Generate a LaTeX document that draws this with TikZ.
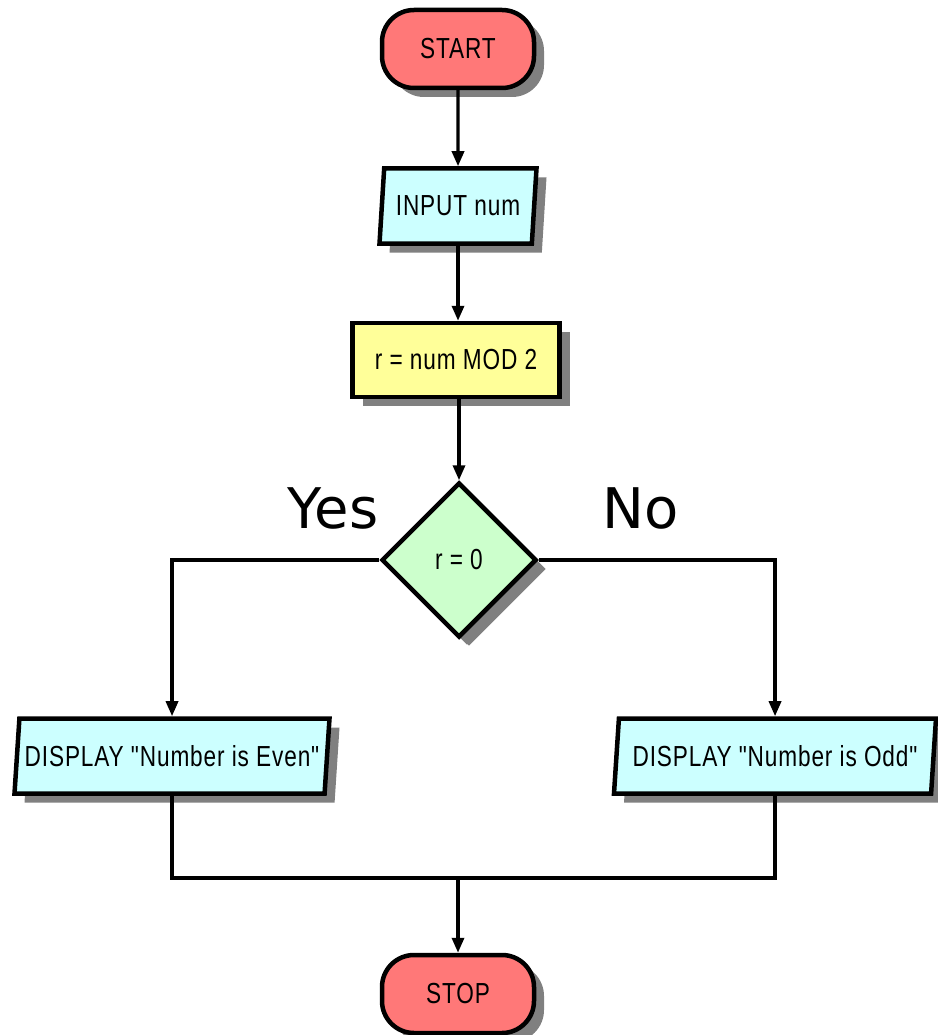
\documentclass[tikz,border=0pt]{standalone}
\usepackage{fontspec}
\setmainfont{Liberation Sans}
\newfontfamily\boxfont[FakeStretch=0.78,LetterSpace=3]{Liberation Sans}
\newfontfamily\bigfont{DejaVu Sans}
\usetikzlibrary{shapes.geometric,shadows,arrows.meta}
\definecolor{termred}{RGB}{255,120,120}
\definecolor{iocyan}{RGB}{204,255,255}
\definecolor{procyellow}{RGB}{255,255,153}
\definecolor{decgreen}{RGB}{204,255,204}
\definecolor{shade}{RGB}{128,128,128}
\tikzset{
  base/.style={draw=black, line width=4.5pt, font=\boxfont\fontsize{29}{32}\selectfont,
    inner sep=0pt,
    drop shadow={shadow xshift=10pt, shadow yshift=-9pt, fill=shade, opacity=1}},
  terminal/.style={base, rectangle, rounded corners=32pt, fill=termred,
    minimum width=152pt, minimum height=78pt},
  iobox/.style={base, trapezium, trapezium left angle=77, trapezium right angle=103,
    trapezium stretches body, fill=iocyan, minimum height=75pt},
  procbox/.style={base, rectangle, fill=procyellow, minimum width=207pt, minimum height=74pt},
  decision/.style={base, diamond, fill=decgreen, minimum width=155pt, minimum height=155pt,
    drop shadow={shadow xshift=8pt, shadow yshift=-8pt, fill=shade, opacity=1}},
  flow/.style={line width=3.3pt, black},
  arr/.style={flow, -{Triangle[length=15pt,width=12pt]}},
  branch/.style={font=\bigfont\fontsize{56}{60}\selectfont, inner sep=0pt, anchor=base}
}
\begin{document}
\begin{tikzpicture}[x=1pt,y=-1pt]
\useasboundingbox[fill=white] (0,0) rectangle (937,1035);

% flowchart symbols
\node[terminal] (start) at (458,49) {START};
\node[iobox, minimum width=157pt] (input) at (458,206) {INPUT num};
\node[procbox] (mod) at (456,360) {r = num MOD 2};
\node[decision] (cond) at (459,560) {r = 0};
\node[iobox, minimum width=315pt] (even) at (172,756) {DISPLAY "Number is Even"};
\node[iobox, minimum width=322pt] (odd) at (775,756) {DISPLAY "Number is Odd"};
\node[terminal] (stop) at (458,994) {STOP};

% branch labels
\node[branch] (yes) at (333,528) {Yes};
\node[branch] (no) at (641,528) {No};

% connectors
\draw[arr] (start.south) -- (input.north);
\draw[arr] (input.south) -- (input.south |- mod.north);
\draw[arr] (mod.south -| cond.north) -- (cond.north);
\draw[arr] (cond.west) -| (even.north);
\draw[arr] (cond.east) -| (odd.north);
\coordinate (join) at (458,878);
\draw[flow] (even.south) |- (join) -| (odd.south);
\draw[arr] (join) -- (stop.north);
\end{tikzpicture}
\end{document}
